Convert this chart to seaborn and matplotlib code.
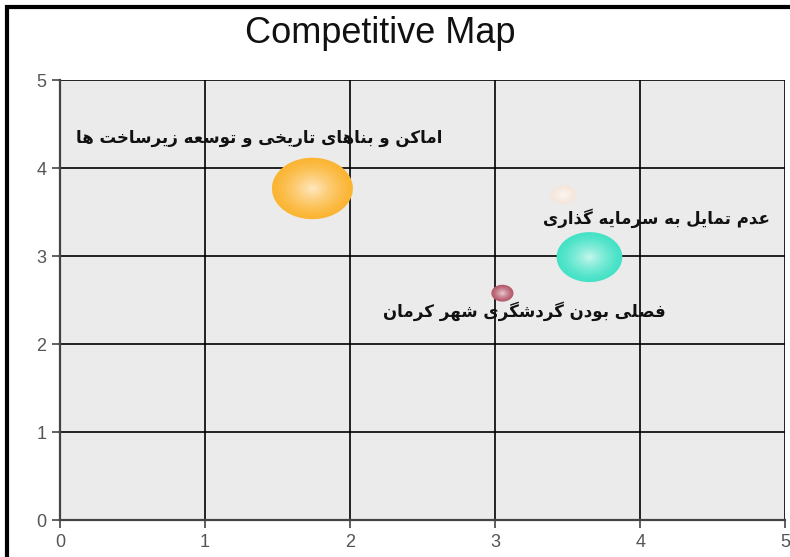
import numpy as np
import pandas as pd
import seaborn as sns
import matplotlib.pyplot as plt
from matplotlib.path import Path
from matplotlib.patches import Rectangle
from matplotlib.colors import to_rgb

# bubble data (x, y, relative bubble area)
labels = [
    "اماکن و بناهای تاریخی و توسعه زیرساخت ها",
    "عدم تمایل به سرمایه گذاری",
    "فصلی بودن گردشگری شهر کرمان",
    "",
]
x_vals = [1.74, 3.65, 3.05, 3.47]
y_vals = [3.77, 2.99, 2.58, 3.70]
weights = [1.00, 0.66, 0.075, 0.095]
colors = ["#fbb534", "#45e2c6", "#b65a6c", "#f5e6db"]
ticks = [0, 1, 2, 3, 4, 5]

# --- tiny arabic/persian shaper (matplotlib has no text shaping) ---
# char: (isolated, final, initial, medial); None for initial/medial => joins right only
FORMS = {
    'ا': (0xFE8D, 0xFE8E, None, None),
    'ب': (0xFE8F, 0xFE90, 0xFE91, 0xFE92),
    'ت': (0xFE95, 0xFE96, 0xFE97, 0xFE98),
    'ث': (0xFE99, 0xFE9A, 0xFE9B, 0xFE9C),
    'خ': (0xFEA5, 0xFEA6, 0xFEA7, 0xFEA8),
    'د': (0xFEA9, 0xFEAA, None, None),
    'ذ': (0xFEAB, 0xFEAC, None, None),
    'ر': (0xFEAD, 0xFEAE, None, None),
    'ز': (0xFEAF, 0xFEB0, None, None),
    'س': (0xFEB1, 0xFEB2, 0xFEB3, 0xFEB4),
    'ش': (0xFEB5, 0xFEB6, 0xFEB7, 0xFEB8),
    'ص': (0xFEB9, 0xFEBA, 0xFEBB, 0xFEBC),
    'ع': (0xFEC9, 0xFECA, 0xFECB, 0xFECC),
    'ف': (0xFED1, 0xFED2, 0xFED3, 0xFED4),
    'ل': (0xFEDD, 0xFEDE, 0xFEDF, 0xFEE0),
    'م': (0xFEE1, 0xFEE2, 0xFEE3, 0xFEE4),
    'ن': (0xFEE5, 0xFEE6, 0xFEE7, 0xFEE8),
    'ه': (0xFEE9, 0xFEEA, 0xFEEB, 0xFEEC),
    'و': (0xFEED, 0xFEEE, None, None),
    'ک': (0xFB8E, 0xFB8F, 0xFB90, 0xFB91),
    'گ': (0xFB92, 0xFB93, 0xFB94, 0xFB95),
    'ی': (0xFBFC, 0xFBFD, 0xFBFE, 0xFBFF),
}


def dual(c):
    return c in FORMS and FORMS[c][2] is not None


def shape(text):
    out = []
    for i, c in enumerate(text):
        if c not in FORMS:
            out.append(c)
            continue
        prev = text[i - 1] if i > 0 else ''
        nxt = text[i + 1] if i + 1 < len(text) else ''
        jp = dual(prev)
        jn = dual(c) and nxt in FORMS
        iso, fin, ini, med = FORMS[c]
        if jp and jn:
            code = med
        elif jp:
            code = fin
        elif jn:
            code = ini
        else:
            code = iso
        out.append(chr(code))
    return ''.join(reversed(out))


def lighten(c, f):
    r = np.array(to_rgb(c))
    return tuple(r + (1 - r) * f)


df = pd.DataFrame({
    'x': x_vals, 'y': y_vals, 'w': weights,
    'name': [str(i) for i in range(len(x_vals))],
})

sns.set_style("white")
plt.rcParams['font.family'] = ['Liberation Sans', 'DejaVu Sans']

fig = plt.figure(figsize=(7.9, 5.57), dpi=100)
ax = fig.add_axes([0.076, 0.066, 0.918, 0.79])
ax.set_facecolor('#ebebeb')

# slightly wide ellipse marker (the original is stretched horizontally)
t = np.linspace(0, 2 * np.pi, 60)
ellipse = Path(np.column_stack([np.cos(t), 0.76 * np.sin(t)]), closed=True)

# soft radial shading: stacked bubbles, lighter towards the centre
n_layers = 12
for k in range(n_layers):
    frac = 1 - k / n_layers
    pal = {n: lighten(c, 0.72 * (k / n_layers) ** 1.3)
           for n, c in zip(df['name'], colors)}
    sns.scatterplot(data=df, x='x', y='y', hue='name', palette=pal, size='w',
                    sizes=(0, 3400 * frac ** 2), size_norm=(0, 1),
                    marker=ellipse, linewidth=0, legend=False, ax=ax,
                    zorder=3 + k * 0.01)

# labels relative to bubbles (offset in points)
offsets = [(-38, 36), (48, 28), (16, -13), (0, 0)]
for lab, xv, yv, off in zip(labels, x_vals, y_vals, offsets):
    if not lab:
        continue
    ax.annotate(shape(lab), (xv, yv), xytext=off, textcoords='offset points',
                ha='center', va='center', fontsize=12, fontweight='bold',
                family=['DejaVu Sans'], color='#111111', zorder=5)

ax.set_xlim(0, 5)
ax.set_ylim(0, 5)
ax.set_xticks(ticks)
ax.set_yticks(ticks)
ax.set_xlabel('')
ax.set_ylabel('')
ax.grid(True, color='black', linewidth=1.2)
ax.set_axisbelow(True)
for side in ['top', 'right']:
    ax.spines[side].set_visible(False)
for side in ['left', 'bottom']:
    ax.spines[side].set_color('#444444')
    ax.spines[side].set_linewidth(1.6)
ax.tick_params(axis='both', direction='out', length=6, width=1.2,
               color='#444444', labelcolor='#555555', labelsize=13, pad=4,
               left=True, bottom=True)

fig.text(0.481, 0.94, 'Competitive Map', ha='center', va='center',
         fontsize=26, color='#111111')

# outer black frame (cut off on the right and bottom)
fig.patches.append(Rectangle((0.009, -0.1), 1.2, 1.088, transform=fig.transFigure,
                             fill=False, edgecolor='black', linewidth=3,
                             clip_on=False))

fig.savefig('out.png', dpi=100)
